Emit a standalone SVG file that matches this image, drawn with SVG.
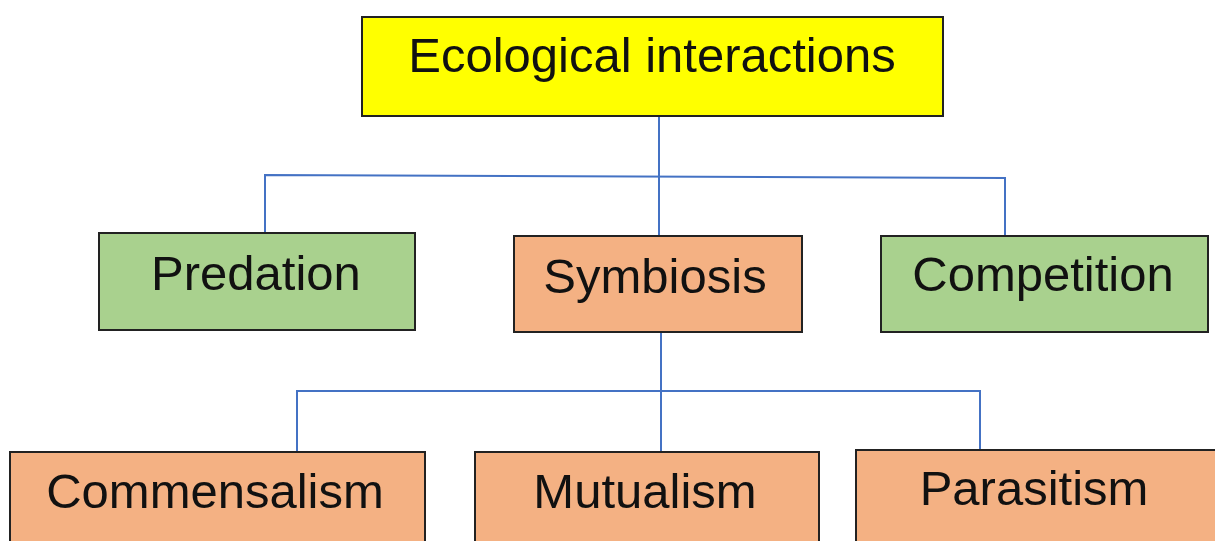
<svg xmlns="http://www.w3.org/2000/svg" width="1215" height="541" viewBox="0 0 1215 541">
  <style>
    .box { stroke: #222222; stroke-width: 2; }
    .root { fill: #FFFF00; }
    .green { fill: #A9D18E; }
    .orange { fill: #F4B183; }
    .label { font-family: "Liberation Sans", Arial, sans-serif; font-size: 49px; fill: #111111; text-anchor: middle; }
    .link { stroke: #4472C4; stroke-width: 2; fill: none; }
  </style>
  <rect width="1215" height="541" fill="#ffffff"/>

  <!-- connectors -->
  <g id="connectors">
    <path class="link" d="M659 116 V236"/>
    <path class="link" d="M265 233 V175 L1005 178 V236"/>
    <path class="link" d="M661 332 V452"/>
    <path class="link" d="M297 452 V391 H980 V450"/>
  </g>

  <g id="node-ecological-interactions">
    <rect class="box root" x="362" y="17" width="581" height="99"/>
    <text class="label" x="652" y="72">Ecological interactions</text>
  </g>

  <g id="node-predation">
    <rect class="box green" x="99" y="233" width="316" height="97"/>
    <text class="label" x="256" y="290">Predation</text>
  </g>

  <g id="node-symbiosis">
    <rect class="box orange" x="514" y="236" width="288" height="96"/>
    <text class="label" x="655" y="293">Symbiosis</text>
  </g>

  <g id="node-competition">
    <rect class="box green" x="881" y="236" width="327" height="96"/>
    <text class="label" x="1043" y="291">Competition</text>
  </g>

  <g id="node-commensalism">
    <rect class="box orange" x="10" y="452" width="415" height="100"/>
    <text class="label" x="215" y="508">Commensalism</text>
  </g>

  <g id="node-mutualism">
    <rect class="box orange" x="475" y="452" width="344" height="100"/>
    <text class="label" x="645" y="508">Mutualism</text>
  </g>

  <g id="node-parasitism">
    <rect class="box orange" x="856" y="450" width="370" height="100"/>
    <text class="label" x="1034" y="505">Parasitism</text>
  </g>
</svg>
